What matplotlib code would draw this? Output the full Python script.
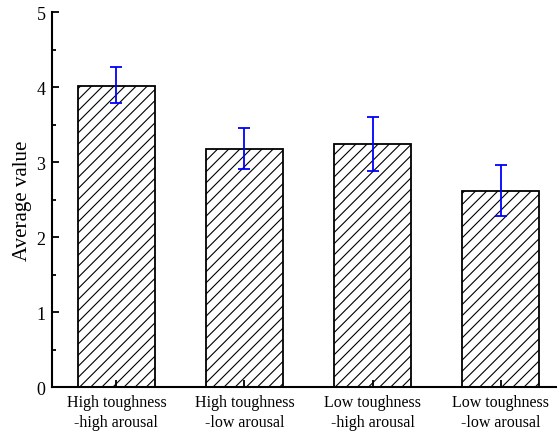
import matplotlib.pyplot as plt
import numpy as np

plt.rcParams['font.family'] = ['Liberation Serif', 'DejaVu Serif']
plt.rcParams['hatch.linewidth'] = 0.8

groups = ["High toughness\n-high arousal", "High toughness\n-low arousal",
          "Low toughness\n-high arousal", "Low toughness\n-low arousal"]
means = [4.02, 3.18, 3.24, 2.61]
err_low = [0.23, 0.27, 0.36, 0.33]
err_high = [0.25, 0.27, 0.36, 0.35]

fig = plt.figure(figsize=(5.57, 4.35), dpi=100)
ax = fig.add_axes([0.094, 0.108, 0.906, 0.862])

x = np.arange(len(groups))
ax.bar(x, means, width=0.6, color="white", edgecolor="black",
       linewidth=1.3, hatch="///")
ax.errorbar(x, means, yerr=[err_low, err_high], fmt="none",
            ecolor="blue", elinewidth=1.3, capsize=4, capthick=1.3)

ax.set_xlim(-0.5, 3.44)
ax.set_ylim(0, 5)
ax.set_xticks(x)
ax.set_yticks([0, 1, 2, 3, 4, 5])
ax.set_yticks(np.arange(0.5, 5, 1), minor=True)
ax.tick_params(axis="x", which="major", direction="in", length=5,
               width=1.3, pad=5, labelsize=11.5)
ax.tick_params(axis="y", which="major", direction="in", length=5,
               width=1.3, labelsize=13, pad=5)
ax.tick_params(axis="y", which="minor", direction="in", length=3, width=1.3)
ax.set_xticklabels(groups, fontsize=11.5, linespacing=1.35)
ax.set_ylabel("Average value", fontsize=15, labelpad=3)

for side in ["top", "right"]:
    ax.spines[side].set_visible(False)
for side in ["left", "bottom"]:
    ax.spines[side].set_linewidth(1.5)

fig.savefig("out.png", dpi=100)
